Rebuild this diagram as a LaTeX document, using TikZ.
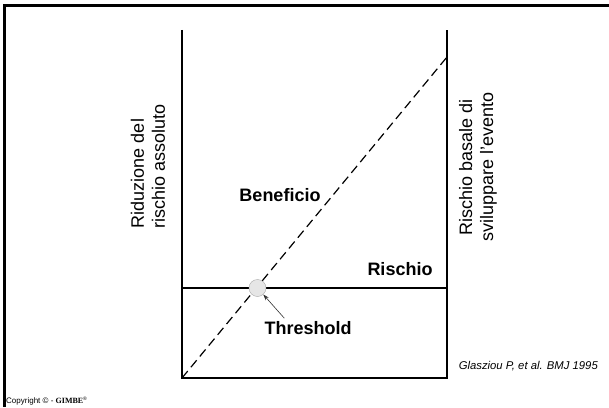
\documentclass[tikz,border=0pt]{standalone}
\usepackage{fontspec}
\usepackage{tikz}
\usepackage{xcolor}
\usetikzlibrary{arrows.meta,positioning}
\setmainfont{Liberation Sans}
\newfontfamily\gimbefont{Liberation Serif}
\definecolor{circlegray}{RGB}{230,230,230}
\definecolor{circleedge}{RGB}{170,170,170}

\begin{document}
\begin{tikzpicture}[x=1pt, y=1pt,
    biglabel/.style={font=\fontsize{18}{21}\selectfont, inner sep=0pt},
    boldlabel/.style={font=\fontsize{18}{21}\selectfont\bfseries, inner sep=0pt},
    axisline/.style={line width=1.3pt, black},
    pointer/.style={-{Stealth[length=6pt, width=4pt]}, line width=0.6pt, black!80}]
    \useasboundingbox (0,0) rectangle (609,407);

    % Slide frame
    \draw[line width=3pt] (609,401.5) -- (4.7,401.5) -- (4.7,0);

    % Axes
    \coordinate (o) at (182,29);
    \coordinate (lt) at (182,377);
    \coordinate (rb) at (447,29);
    \coordinate (rt) at (447,377);
    \draw[axisline] (lt) -- (o) -- (rb) -- (rt);

    % Risk line and benefit line
    \coordinate (rl) at (182,119);
    \coordinate (rr) at (447,119);
    \draw[line width=1.9pt] (rl) -- (rr);
    \coordinate (btop) at (447,350);
    \draw[line width=1.2pt, dash pattern=on 9pt off 5pt] (o) -- (btop);

    % Threshold point
    \node[circle, draw=circleedge, fill=circlegray, minimum size=17pt, inner sep=0pt] (thresh) at (257.5,119) {};

    % Labels
    \node[boldlabel] (benef) at (280,212) {Beneficio};
    \node[boldlabel] (risk) at (400,138) {Rischio};
    \node[boldlabel] (thr) at (308,79) {Threshold};
    \draw[pointer] ([xshift=20pt, yshift=3pt]thr.north west) -- (thresh);

    \node[biglabel, align=left, rotate=90] (yleft) at (148,241) {Riduzione del\\rischio assoluto};
    \node[biglabel, align=center, rotate=90] (yright) at (478,240) {Rischio basale di\\sviluppare l'evento};

    % Source and copyright
    \node[anchor=east, font=\fontsize{11.3}{13}\selectfont\itshape, inner sep=0pt] (src) at (598,41) {Glasziou P, et al. BMJ 1995};
    \node[anchor=west, font=\fontsize{8}{9}\selectfont, inner sep=0pt] (copy) at (6,6) {Copyright \textcopyright\ - {\gimbefont\bfseries GIMBE}\textsuperscript{\tiny\textregistered}};

\end{tikzpicture}
\end{document}
